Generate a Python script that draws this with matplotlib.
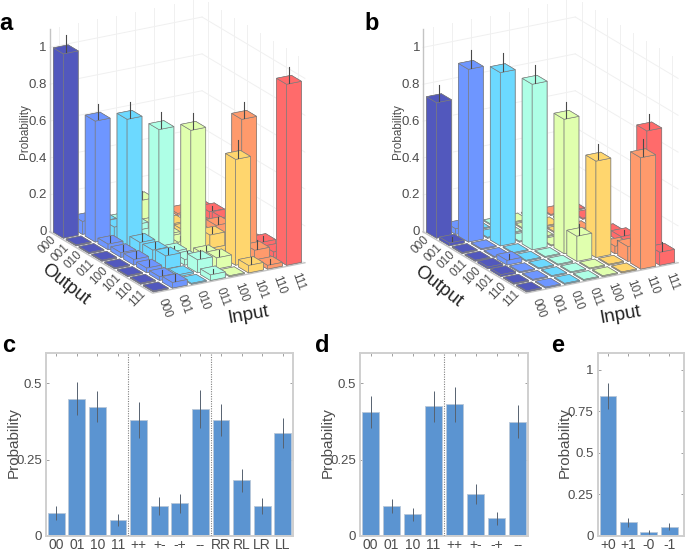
import numpy as np
import matplotlib
matplotlib.use('Agg')
import matplotlib.pyplot as plt
from mpl_toolkits.mplot3d import proj3d

plt.rcParams['font.family'] = ['Liberation Sans Narrow', 'Liberation Sans']

W, H = 685, 552

codes = ['000', '001', '010', '011', '100', '101', '110', '111']
jet_colors = ['#5258bd', '#6e96ff', '#6cd9ff', '#aeffe6', '#e0ffae', '#ffd66e', '#ff9a6c', '#ff6b6b']
z_ticks = [0, 0.2, 0.4, 0.6, 0.8, 1]
z_tick_labels = ['0', '0.2', '0.4', '0.6', '0.8', '1']

# rows = output, columns = input
probs_a = [
    [1.00, 0.07, 0.05, 0.03, 0.12, 0.01, 0.01, 0.02],
    [0.005, 0.656, 0.06, 0.05, 0.03, 0.015, 0.01, 0.04],
    [0.005, 0.03, 0.687, 0.03, 0.02, 0.02, 0.02, 0.05],
    [0.005, 0.025, 0.06, 0.652, 0.02, 0.05, 0.07, 0.01],
    [0.005, 0.03, 0.06, 0.03, 0.669, 0.08, 0.02, 0.01],
    [0.005, 0.025, 0.07, 0.03, 0.04, 0.02, 0.729, 0.04],
    [0.005, 0.02, 0.01, 0.07, 0.06, 0.574, 0.06, 0.03],
    [0.005, 0.03, 0.005, 0.03, 0.005, 0.04, 0.02, 0.982],
]
errs_a = [
    [0.08, 0.02, 0.02, 0.02, 0.03, 0, 0, 0],
    [0, 0.07, 0.02, 0.02, 0.01, 0, 0, 0.01],
    [0, 0.02, 0.07, 0.01, 0.01, 0.01, 0.01, 0.02],
    [0, 0.02, 0.03, 0.07, 0.01, 0.02, 0.02, 0],
    [0, 0.02, 0.02, 0.01, 0.07, 0.02, 0.01, 0],
    [0, 0.02, 0.02, 0.02, 0.02, 0.01, 0.07, 0.01],
    [0, 0.01, 0, 0.03, 0.02, 0.08, 0.03, 0.01],
    [0, 0.02, 0, 0.01, 0, 0.02, 0.01, 0.07],
]
probs_b = [
    [0.735, 0.03, 0.005, 0.005, 0.005, 0.005, 0.005, 0.005],
    [0.015, 0.937, 0.005, 0.005, 0.005, 0.005, 0.005, 0.005],
    [0.005, 0.005, 0.94, 0.005, 0.005, 0.005, 0.005, 0.005],
    [0.005, 0.005, 0.005, 0.898, 0.005, 0.005, 0.005, 0.01],
    [0.01, 0.025, 0.005, 0.005, 0.729, 0.005, 0.005, 0.03],
    [0.01, 0.005, 0.005, 0.005, 0.136, 0.523, 0.04, 0.02],
    [0.005, 0.005, 0.005, 0.005, 0.005, 0.005, 0.08, 0.687],
    [0.005, 0.005, 0.005, 0.005, 0.005, 0.005, 0.604, 0.07],
]
errs_b = [
    [0.07, 0.01, 0, 0, 0, 0, 0, 0],
    [0.01, 0.08, 0, 0, 0, 0, 0, 0],
    [0, 0, 0.08, 0, 0, 0, 0, 0],
    [0, 0, 0, 0.08, 0, 0, 0, 0],
    [0, 0.01, 0, 0, 0.07, 0, 0, 0.01],
    [0, 0, 0, 0, 0.04, 0.07, 0.01, 0],
    [0, 0, 0, 0, 0, 0, 0.02, 0.07],
    [0, 0, 0, 0, 0, 0, 0.08, 0.03],
]

labels_c = ['00', '01', '10', '11', '++', '+-', '-+', '--', 'RR', 'RL', 'LR', 'LL']
values_c = [0.073, 0.45, 0.424, 0.052, 0.38, 0.097, 0.106, 0.416, 0.38, 0.182, 0.098, 0.337]
errors_c = [0.023, 0.055, 0.052, 0.02, 0.059, 0.03, 0.031, 0.061, 0.052, 0.038, 0.027, 0.05]

labels_d = ['00', '01', '10', '11', '++', '+-', '-+', '--']
values_d = [0.407, 0.097, 0.07, 0.425, 0.432, 0.137, 0.057, 0.375]
errors_d = [0.052, 0.024, 0.022, 0.051, 0.057, 0.032, 0.021, 0.053]

labels_e = ['+0', '+1', '-0', '-1']
values_e = [0.84, 0.082, 0.022, 0.054]
errors_e = [0.077, 0.027, 0.012, 0.022]

GRID = '#f0f0f0'
AXIS = '#c4c4c4'
TEXT = '#4d4d4d'
BLUE = '#5b94d1'
REGULAR = 'Liberation Sans'


def box(left, top, right, bottom):
    # pixel box -> figure fraction
    return [left / W, 1 - bottom / H, (right - left) / W, (bottom - top) / H]


def label3d(ax, x, y, z, s, **kw):
    # Text3D ignores rotation, so project the anchor and draw plain text there
    px, py, _ = proj3d.proj_transform(x, y, z, ax.get_proj())
    ax.text2D(px, py, s, transform=ax.transData, color=TEXT, zorder=500, **kw)


def bars3d(left_px, bottom_px, probs, errs):
    ax = fig.add_axes(box(left_px, H - bottom_px - 336, left_px + 336, H - bottom_px),
                      projection='3d', computed_zorder=False, proj_type='ortho')
    ax.set_xlim(0, 8, view_margin=0)
    ax.set_ylim(0, 8, view_margin=0)
    ax.set_zlim(0, 1.1, view_margin=0)
    ax.set_box_aspect((205, 175.6, 215.7))
    ax.view_init(elev=20.2, azim=-30.05)
    ax.set_xticks([])
    ax.set_yticks([])
    ax.set_zticks([])
    ax.set_axis_off()

    # back walls
    for z in z_ticks:
        ax.plot([0, 0], [0, 8], [z, z], color=GRID, lw=0.7, zorder=1)
        ax.plot([0, 8], [8, 8], [z, z], color=GRID, lw=0.7, zorder=1)
    for k in range(8):
        ax.plot([0, 0], [k + 0.5, k + 0.5], [0, 1.1], color=GRID, lw=0.7, zorder=1)
        ax.plot([k + 0.5, k + 0.5], [8, 8], [0, 1.1], color=GRID, lw=0.7, zorder=1)
    ax.plot([0, 0], [0, 0], [0, 1.1], color=AXIS, lw=1.0, zorder=2)
    ax.plot([0, 8, 8], [0, 0, 8], [0, 0, 0], color=AXIS, lw=1.0, zorder=2)

    # far bars first
    order = 10
    w = 0.78
    for o in range(8):
        for i in range(7, -1, -1):
            h = probs[o][i]
            ax.bar3d(o + 0.5 - w / 2, i + 0.5 - w / 2, 0, w, w, h, color=jet_colors[i],
                     edgecolor='#7c7c7c', linewidth=0.45, shade=False, zorder=order)
            order += 1
            if errs[o][i] > 0:
                ax.plot([o + 0.5, o + 0.5], [i + 0.5, i + 0.5],
                        [h - 0.015, h + errs[o][i]], color='#4a4a4a', lw=0.8, zorder=order)
                order += 1

    for z, s in zip(z_ticks, z_tick_labels):
        label3d(ax, 0, -0.15, z, s, fontsize=9.5, ha='right', va='center')
    label3d(ax, 0, -1.3, 0.57, 'Probability', fontsize=8.5, family=REGULAR, rotation=90,
            ha='center', va='center')
    for k, s in enumerate(codes):
        label3d(ax, k + 0.5, -0.45, -0.04, s, fontsize=8.5, rotation=45, ha='center', va='center')
        label3d(ax, 8.6, k + 0.25, -0.06, s, fontsize=8.5, rotation=-70, ha='center', va='center')
    return ax


def bars2d(rect, labels, values, errors, ylim, yticks, yticklabels, xlim, dividers, ylabel_x):
    ax = fig.add_axes(box(*rect))
    x = np.arange(1, len(values) + 1)
    ax.bar(x, values, width=0.82, color=BLUE, edgecolor='#b9c7d8', linewidth=0.6, zorder=2)
    ax.errorbar(x, values, yerr=errors, fmt='none', ecolor='#566270', elinewidth=0.7, zorder=3)
    for d in dividers:
        ax.axvline(d, color='#808080', lw=0.8, ls=(0, (1, 1.2)), zorder=4)
    ax.set_xlim(*xlim)
    ax.set_ylim(*ylim)
    ax.set_xticks(x)
    ax.set_xticklabels(labels, fontsize=10, color=TEXT)
    ax.set_yticks(yticks)
    ax.set_yticklabels(yticklabels, fontsize=9.5, color=TEXT)
    ax.tick_params(axis='both', direction='in', length=2.5, width=0.6, color='#909090',
                   top=True, right=True, pad=3)
    ax.tick_params(axis='x', pad=1.5)
    for s in ax.spines.values():
        s.set_color('#cfcfcf')
        s.set_linewidth(1.4)
    fig.text(ylabel_x / W, 1 - 443 / H, 'Probability', fontsize=11, color=TEXT,
             family=REGULAR, rotation=90, ha='center', va='center')
    return ax


fig = plt.figure(figsize=(W / 100, H / 100), dpi=100)

bars3d(4.8, 233.6, probs_a, errs_a)
bars3d(378, 233.6, probs_b, errs_b)

bars2d((46, 353, 293, 535.7), labels_c, values_c, errors_c, (0, 0.6), [0, 0.25, 0.5],
       ['0', '0.25', '0.5'], (0.5, 12.5), [4.5, 8.5], 14)
bars2d((360, 353, 528, 535.7), labels_d, values_d, errors_d, (0, 0.6), [0, 0.25, 0.5],
       ['0', '0.25', '0.5'], (0.5, 8.5), [4.5], 328)
bars2d((597.7, 353, 684, 535.7), labels_e, values_e, errors_e, (0, 1.1), [0, 0.25, 0.5, 0.75, 1],
       ['0', '0.25', '0.5', '0.75', '1'], (0.5, 4.72), [], 565)

for s, px, py, rot in [('Output', 65, 285, -38), ('Input', 248, 315, 10),
                       ('Output', 438, 287, -38), ('Input', 620, 315, 10)]:
    fig.text(px / W, 1 - py / H, s, fontsize=13.5, color='#222222', family=REGULAR, rotation=rot,
             ha='center', va='center')

for s, px, py in [('a', 6, 24), ('b', 372, 24), ('c', 9, 346), ('d', 322, 346), ('e', 558, 346)]:
    fig.text(px / W, 1 - py / H, s, fontsize=17, fontweight='bold', color='black',
             family=REGULAR, ha='center', va='center')

fig.savefig('out.png', dpi=100)
